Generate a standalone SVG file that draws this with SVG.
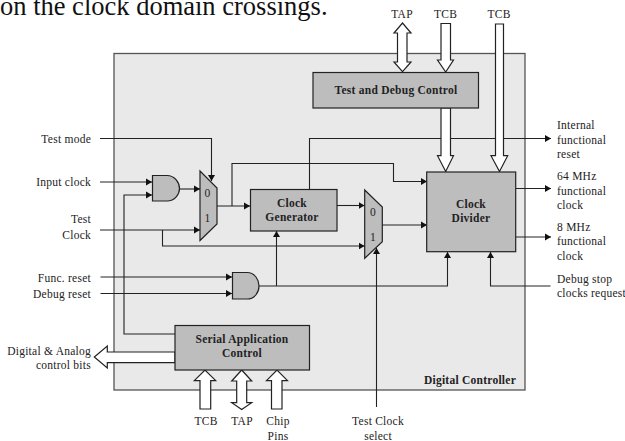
<svg xmlns="http://www.w3.org/2000/svg" width="625" height="441" viewBox="0 0 625 441">
<style>
text{font-family:"Liberation Serif","Times New Roman",serif;font-size:11.5px;fill:#222;letter-spacing:.25px}
.b{font-weight:bold;text-anchor:middle}
.m{text-anchor:middle}
.e{text-anchor:end}
.n{fill:#bdbdbd;stroke:#222;stroke-width:1.2}
.w{fill:#fff;stroke:#222;stroke-width:1.2}
.c{fill:none;stroke:#222;stroke-width:1.1}
</style>
<defs>
<marker id="a" markerUnits="userSpaceOnUse" markerWidth="7" markerHeight="8" refX="6" refY="4" orient="auto"><path d="M0 0.500L6 4L0 7.500Z" fill="#111"/></marker>
</defs>
<rect width="625" height="441" fill="#fff"/>
<text x="0" y="14.500" style="font-size:26.500px;fill:#111;letter-spacing:0">on the clock domain crossings.</text>
<g id="digital-controller"><rect x="114" y="53.500" width="411" height="336.500" fill="#e9e9e9" stroke="#555" stroke-width="1.300"/>
<text x="516" y="384" style="font-weight:bold;text-anchor:end">Digital Controller</text></g>
<g id="mux-1"><path class="n" d="M200 171L217 188V224L200 240.500Z"/><text class="m" x="207.500" y="197">0</text><text class="m" x="207.500" y="222">1</text></g>
<g id="mux-2"><path class="n" d="M364.700 190L382.300 207V241.700L364.700 258.300Z"/><text class="m" x="373" y="216">0</text><text class="m" x="373" y="241">1</text></g>
<g id="connectors">
<path class="c" marker-end="url(#a)" d="M100 138.500H211.500V181"/>
<path class="c" marker-end="url(#a)" d="M100 182H152"/>
<path class="c" marker-end="url(#a)" d="M175 334H124V195H152"/>
<path class="c" marker-end="url(#a)" d="M179.500 189H200"/>
<path class="c" marker-end="url(#a)" d="M100 230H200"/>
<path class="c" marker-end="url(#a)" d="M162.500 230V246H364.500"/>
<path class="c" marker-end="url(#a)" d="M217 206H250"/>
<path class="c" marker-end="url(#a)" d="M232 206V163.500H393.500V181.500H427"/>
<path class="c" marker-end="url(#a)" d="M309.500 189.500V138.500H551"/>
<path class="c" marker-end="url(#a)" d="M337 205.500H364.500"/>
<path class="c" marker-end="url(#a)" d="M382 225H427"/>
<path class="c" marker-end="url(#a)" d="M100.500 277H232"/>
<path class="c" marker-end="url(#a)" d="M100.500 293.500H232"/>
<path class="c" marker-end="url(#a)" d="M259 286H447.500V252"/>
<path class="c" marker-end="url(#a)" d="M276.500 286V231"/>
<path class="c" marker-end="url(#a)" d="M550.500 286H490.500V252"/>
<path class="c" marker-end="url(#a)" d="M376.500 407V248"/>
<path class="c" marker-end="url(#a)" d="M515.700 188.500H551"/>
<path class="c" marker-end="url(#a)" d="M515.700 237H551"/>
<path class="w" d="M402.500 23L411 33H407V62H411L402.500 71.700L394 62H397.500V33H394Z"/>
<path class="w" d="M441 23.500H450.500V60H453.500L445.700 72L437.500 60H441Z"/>
<path class="w" d="M495.500 24H503.500V155.700H507.700L499.500 171.500L491 155.700H495.500Z"/>
<path class="w" d="M441 108H450.500V155.700H453.500L445.700 171.500L437.500 155.700H441Z"/>
<path class="w" d="M175 352H107.300V346L94.300 357L107.300 368V362.700H175Z"/>
<path class="w" d="M200 409V380.700H194.300L205 370L215.700 380.700H210.700V409Z"/>
<path class="w" d="M241.700 370L251.700 381H246.700V402.700H251.700L241.700 409.500L231.700 402.700H236.700V381H231.700Z"/>
<path class="w" d="M271.500 409V380.700H266.500L277 370L287.500 380.700H282V409Z"/>
</g>
<g id="test-debug-control"><rect class="n" x="313" y="72.500" width="165.500" height="35.500"/><text class="b" x="396" y="94">Test and Debug Control</text></g>
<g id="clock-divider"><rect class="n" x="426.700" y="172" width="89" height="79.700"/><text class="b" x="471" y="208">Clock</text><text class="b" x="471" y="222">Divider</text></g>
<g id="clock-generator"><rect class="n" x="250.500" y="189.500" width="86.500" height="41.500"/><text class="b" x="292" y="207">Clock</text><text class="b" x="292" y="221">Generator</text></g>
<g id="serial-application-control"><rect class="n" x="175" y="325.500" width="134.500" height="44.500"/><text class="b" x="242" y="343">Serial Application</text><text class="b" x="242" y="357">Control</text></g>
<g id="and-1"><path class="n" d="M152.500 175.500H167C175 175.500 179.500 183 179.500 188.500C179.500 194 175 201 167 201H152.500Z"/></g>
<g id="and-2"><path class="n" d="M232.500 272.500H247C255 272.500 259 280 259 286C259 292 255 299 247 299H232.500Z"/></g>
<g id="labels">
<text class="e" x="91" y="143">Test mode</text>
<text class="e" x="91" y="186">Input clock</text>
<text class="e" x="91" y="223">Test</text>
<text class="e" x="91" y="239">Clock</text>
<text class="e" x="91" y="282">Func. reset</text>
<text class="e" x="91" y="298">Debug reset</text>
<text class="e" x="91" y="355">Digital &amp; Analog</text>
<text class="e" x="91" y="369">control bits</text>
<text class="m" x="402" y="18">TAP</text>
<text class="m" x="445.500" y="18">TCB</text>
<text class="m" x="499" y="18">TCB</text>
<text x="557" y="129">Internal</text>
<text x="557" y="144">functional</text>
<text x="557" y="158">reset</text>
<text x="557" y="180">64 MHz</text>
<text x="557" y="195">functional</text>
<text x="557" y="209">clock</text>
<text x="557" y="231">8 MHz</text>
<text x="557" y="245">functional</text>
<text x="557" y="260">clock</text>
<text x="557" y="283">Debug stop</text>
<text x="557" y="297">clocks request</text>
<text class="m" x="206" y="425">TCB</text>
<text class="m" x="242" y="425">TAP</text>
<text class="m" x="278" y="425">Chip</text>
<text class="m" x="278" y="440">Pins</text>
<text class="m" x="378" y="425">Test Clock</text>
<text class="m" x="378" y="440">select</text>
</g>
</svg>
